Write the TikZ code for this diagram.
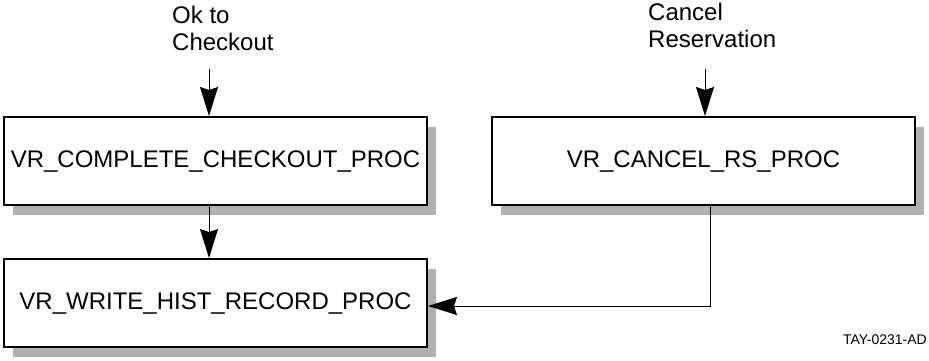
\documentclass[tikz,border=0pt]{standalone}
\usepackage{fontspec}
\setmainfont{Liberation Sans}
\usetikzlibrary{arrows.meta,shadows}
\begin{document}
\begin{tikzpicture}[x=1pt,y=-1pt,
  procbox/.style={draw, line width=2pt, fill=white, minimum width=423pt, minimum height=88pt, inner sep=0pt,
    font=\fontsize{24}{27}\selectfont,
    drop shadow={shadow xshift=9pt, shadow yshift=-10pt, fill=black!31, opacity=1}},
  flow/.style={line width=1pt, -{Stealth[length=29pt,width=18pt,inset=3pt]}},
  lbl/.style={align=left, inner sep=0pt, font=\fontsize{24}{27}\selectfont}]
\useasboundingbox (0,0) rectangle (929,360);
\node[procbox] (b1) at (215.5,161) {VR\_COMPLETE\_CHECKOUT\_PROC};
\node[procbox] (b2) at (703.5,161) {VR\_CANCEL\_RS\_PROC};
\node[procbox] (b3) at (215.5,303) {VR\_WRITE\_HIST\_RECORD\_PROC};
\node[lbl, anchor=north west] (l1) at (172,6) {Ok to\\Checkout};
\node[lbl, anchor=north west] (l2) at (648,3) {Cancel\\Reservation};
\coordinate (in1) at (209,69);
\coordinate (in2) at (705,69);
\coordinate (bend) at (710,306);
\draw[flow] (in1) -- (in1 |- b1.north);
\draw[flow] (in2) -- (in2 |- b2.north);
\draw[flow] (b1.south -| in1) -- (in1 |- b3.north);
\draw[flow] (b2.south -| bend) -- (bend) -- (bend -| b3.east);
\node[anchor=east, inner sep=0pt, font=\fontsize{14}{16}\selectfont] (tag) at (927,340) {TAY-0231-AD};
\end{tikzpicture}
\end{document}
